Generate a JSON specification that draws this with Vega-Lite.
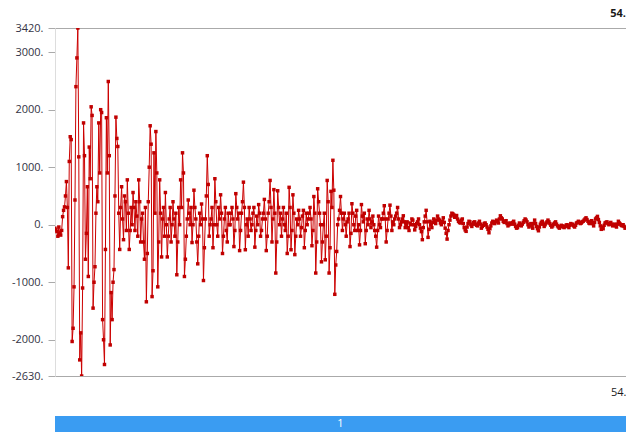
{
  "$schema": "https://vega.github.io/schema/vega-lite/v6.json",
  "padding": {"top": 8, "left": 11, "right": 0, "bottom": 0},
  "spacing": 19,
  "config": {"view": {"stroke": null}, "font": "Open Sans"},
  "datasets": {
    "sig": [
{"t":0,"v":-60},{"t":1,"v":-90},{"t":2,"v":-120},{"t":3,"v":-200},{"t":4,"v":-40},{"t":5,"v":-150},{"t":6,"v":-180},{"t":7,"v":-100},{"t":8,"v":140},{"t":9,"v":250},
{"t":10,"v":310},{"t":11,"v":500},{"t":12,"v":750},{"t":13,"v":300},{"t":14,"v":-750},{"t":15,"v":1100},{"t":16,"v":1530},{"t":17,"v":1480},{"t":18,"v":-2030},{"t":19,"v":-1800},
{"t":20,"v":-1080},{"t":21,"v":430},{"t":22,"v":2400},{"t":23,"v":2900},{"t":24,"v":3420},{"t":25,"v":1180},{"t":26,"v":-2350},{"t":27,"v":-1880},{"t":28,"v":-2630},{"t":29,"v":-1100},
{"t":30,"v":1770},{"t":31,"v":1200},{"t":32,"v":-600},{"t":33,"v":-150},{"t":34,"v":660},{"t":35,"v":-900},{"t":36,"v":1350},{"t":37,"v":800},{"t":38,"v":2050},{"t":39,"v":1900},
{"t":40,"v":-1450},{"t":41,"v":-1000},{"t":42,"v":-730},{"t":43,"v":200},{"t":44,"v":660},{"t":45,"v":400},{"t":46,"v":1770},{"t":47,"v":900},{"t":48,"v":2000},{"t":49,"v":1950},
{"t":50,"v":-1650},{"t":51,"v":-2000},{"t":52,"v":-2430},{"t":53,"v":-430},{"t":54,"v":1860},{"t":55,"v":900},{"t":56,"v":2490},{"t":57,"v":1200},{"t":58,"v":-2090},{"t":59,"v":-1180},
{"t":60,"v":-1650},{"t":61,"v":-1000},{"t":62,"v":-780},{"t":63,"v":500},{"t":64,"v":1870},{"t":65,"v":1500},{"t":66,"v":1360},{"t":67,"v":200},{"t":68,"v":-430},{"t":69,"v":300},
{"t":70,"v":660},{"t":71,"v":100},{"t":72,"v":-260},{"t":73,"v":500},{"t":74,"v":400},{"t":75,"v":-100},{"t":76,"v":780},{"t":77,"v":200},{"t":78,"v":-430},{"t":79,"v":-100},
{"t":80,"v":300},{"t":81,"v":0},{"t":82,"v":560},{"t":83,"v":300},{"t":84,"v":-100},{"t":85,"v":400},{"t":86,"v":150},{"t":87,"v":-200},{"t":88,"v":780},{"t":89,"v":400},
{"t":90,"v":-300},{"t":91,"v":100},{"t":92,"v":200},{"t":93,"v":-300},{"t":94,"v":-600},{"t":95,"v":300},{"t":96,"v":-1340},{"t":97,"v":-500},{"t":98,"v":400},{"t":99,"v":1000},
{"t":100,"v":1720},{"t":101,"v":1400},{"t":102,"v":-1250},{"t":103,"v":-800},{"t":104,"v":1250},{"t":105,"v":200},{"t":106,"v":1620},{"t":107,"v":900},{"t":108,"v":-1080},{"t":109,"v":-300},
{"t":110,"v":780},{"t":111,"v":200},{"t":112,"v":-560},{"t":113,"v":100},{"t":114,"v":300},{"t":115,"v":-200},{"t":116,"v":560},{"t":117,"v":0},{"t":118,"v":-560},{"t":119,"v":-200},
{"t":120,"v":100},{"t":121,"v":300},{"t":122,"v":-300},{"t":123,"v":0},{"t":124,"v":400},{"t":125,"v":100},{"t":126,"v":-200},{"t":127,"v":200},{"t":128,"v":-870},{"t":129,"v":-300},
{"t":130,"v":300},{"t":131,"v":0},{"t":132,"v":780},{"t":133,"v":300},{"t":134,"v":1250},{"t":135,"v":900},{"t":136,"v":-900},{"t":137,"v":-600},{"t":138,"v":-200},{"t":139,"v":100},
{"t":140,"v":430},{"t":141,"v":200},{"t":142,"v":0},{"t":143,"v":300},{"t":144,"v":-310},{"t":145,"v":0},{"t":146,"v":600},{"t":147,"v":300},{"t":148,"v":100},{"t":149,"v":-300},
{"t":150,"v":-680},{"t":151,"v":-200},{"t":152,"v":200},{"t":153,"v":0},{"t":154,"v":360},{"t":155,"v":100},{"t":156,"v":-970},{"t":157,"v":-400},{"t":158,"v":100},{"t":159,"v":500},
{"t":160,"v":1200},{"t":161,"v":700},{"t":162,"v":-200},{"t":163,"v":0},{"t":164,"v":100},{"t":165,"v":300},{"t":166,"v":-400},{"t":167,"v":0},{"t":168,"v":800},{"t":169,"v":400},
{"t":170,"v":0},{"t":171,"v":-200},{"t":172,"v":300},{"t":173,"v":100},{"t":174,"v":520},{"t":175,"v":200},{"t":176,"v":-500},{"t":177,"v":-200},{"t":178,"v":100},{"t":179,"v":300},
{"t":180,"v":-100},{"t":181,"v":-300},{"t":182,"v":200},{"t":183,"v":0},{"t":184,"v":0},{"t":185,"v":200},{"t":186,"v":300},{"t":187,"v":100},{"t":188,"v":-380},{"t":189,"v":-100},
{"t":190,"v":540},{"t":191,"v":300},{"t":192,"v":100},{"t":193,"v":200},{"t":194,"v":-450},{"t":195,"v":-100},{"t":196,"v":200},{"t":197,"v":400},{"t":198,"v":740},{"t":199,"v":300},
{"t":200,"v":-435},{"t":201,"v":0},{"t":202,"v":100},{"t":203,"v":-200},{"t":204,"v":300},{"t":205,"v":100},{"t":206,"v":-100},{"t":207,"v":0},{"t":208,"v":200},{"t":209,"v":300},
{"t":210,"v":-390},{"t":211,"v":-100},{"t":212,"v":150},{"t":213,"v":0},{"t":214,"v":350},{"t":215,"v":200},{"t":216,"v":-200},{"t":217,"v":-100},{"t":218,"v":100},{"t":219,"v":200},
{"t":220,"v":440},{"t":221,"v":100},{"t":222,"v":-450},{"t":223,"v":-200},{"t":224,"v":200},{"t":225,"v":400},{"t":226,"v":770},{"t":227,"v":300},{"t":228,"v":-300},{"t":229,"v":100},
{"t":230,"v":610},{"t":231,"v":200},{"t":232,"v":-840},{"t":233,"v":-300},{"t":234,"v":590},{"t":235,"v":300},{"t":236,"v":0},{"t":237,"v":200},{"t":238,"v":-200},{"t":239,"v":100},
{"t":240,"v":300},{"t":241,"v":0},{"t":242,"v":-100},{"t":243,"v":200},{"t":244,"v":-500},{"t":245,"v":-200},{"t":246,"v":650},{"t":247,"v":300},{"t":248,"v":-435},{"t":249,"v":-100},
{"t":250,"v":520},{"t":251,"v":200},{"t":252,"v":-520},{"t":253,"v":-200},{"t":254,"v":100},{"t":255,"v":0},{"t":256,"v":250},{"t":257,"v":100},{"t":258,"v":-200},{"t":259,"v":-50},
{"t":260,"v":150},{"t":261,"v":250},{"t":262,"v":-400},{"t":263,"v":-100},{"t":264,"v":200},{"t":265,"v":0},{"t":266,"v":100},{"t":267,"v":200},{"t":268,"v":300},{"t":269,"v":100},
{"t":270,"v":-365},{"t":271,"v":-100},{"t":272,"v":490},{"t":273,"v":200},{"t":274,"v":-840},{"t":275,"v":-300},{"t":276,"v":625},{"t":277,"v":400},{"t":278,"v":200},{"t":279,"v":0},
{"t":280,"v":-645},{"t":281,"v":-300},{"t":282,"v":0},{"t":283,"v":200},{"t":284,"v":-610},{"t":285,"v":-200},{"t":286,"v":770},{"t":287,"v":400},{"t":288,"v":-840},{"t":289,"v":-400},
{"t":290,"v":580},{"t":291,"v":300},{"t":292,"v":1120},{"t":293,"v":600},{"t":294,"v":-1210},{"t":295,"v":-700},{"t":296,"v":-465},{"t":297,"v":0},{"t":298,"v":100},{"t":299,"v":250},
{"t":300,"v":490},{"t":301,"v":200},{"t":302,"v":-100},{"t":303,"v":100},{"t":304,"v":200},{"t":305,"v":0},{"t":306,"v":-200},{"t":307,"v":50},{"t":308,"v":100},{"t":309,"v":200},
{"t":310,"v":-380},{"t":311,"v":-150},{"t":312,"v":365},{"t":313,"v":200},{"t":314,"v":0},{"t":315,"v":-100},{"t":316,"v":150},{"t":317,"v":250},{"t":318,"v":-100},{"t":319,"v":0},
{"t":320,"v":-350},{"t":321,"v":-100},{"t":322,"v":350},{"t":323,"v":150},{"t":324,"v":50},{"t":325,"v":200},{"t":326,"v":-330},{"t":327,"v":-100},{"t":328,"v":100},{"t":329,"v":0},
{"t":330,"v":250},{"t":331,"v":100},{"t":332,"v":-50},{"t":333,"v":50},{"t":334,"v":150},{"t":335,"v":0},{"t":336,"v":-100},{"t":337,"v":-200},{"t":338,"v":-390},{"t":339,"v":-100},
{"t":340,"v":150},{"t":341,"v":0},{"t":342,"v":-50},{"t":343,"v":100},{"t":344,"v":100},{"t":345,"v":200},{"t":346,"v":330},{"t":347,"v":100},{"t":348,"v":-300},{"t":349,"v":-100},
{"t":350,"v":100},{"t":351,"v":200},{"t":352,"v":340},{"t":353,"v":150},{"t":354,"v":-100},{"t":355,"v":50},{"t":356,"v":0},{"t":357,"v":100},{"t":358,"v":150},{"t":359,"v":200},
{"t":360,"v":300},{"t":361,"v":100},{"t":362,"v":-50},{"t":363,"v":0},{"t":364,"v":50},{"t":365,"v":100},{"t":366,"v":155},{"t":367,"v":50},{"t":368,"v":-50},{"t":369,"v":0},
{"t":370,"v":50},{"t":371,"v":-50},{"t":372,"v":-100},{"t":373,"v":30},{"t":374,"v":0},{"t":375,"v":100},{"t":376,"v":80},{"t":377,"v":0},{"t":378,"v":-90},{"t":379,"v":-30},
{"t":380,"v":20},{"t":381,"v":50},{"t":382,"v":100},{"t":383,"v":0},{"t":384,"v":-60},{"t":385,"v":-120},{"t":386,"v":-260},{"t":387,"v":-50},{"t":388,"v":50},{"t":389,"v":150},
{"t":390,"v":250},{"t":391,"v":50},{"t":392,"v":-220},{"t":393,"v":-80},{"t":394,"v":60},{"t":395,"v":0},{"t":396,"v":-50},{"t":397,"v":40},{"t":398,"v":100},{"t":399,"v":60},
{"t":400,"v":20},{"t":401,"v":80},{"t":402,"v":150},{"t":403,"v":100},{"t":404,"v":80},{"t":405,"v":30},{"t":406,"v":0},{"t":407,"v":60},{"t":408,"v":120},{"t":409,"v":40},
{"t":410,"v":-60},{"t":411,"v":-150},{"t":412,"v":-250},{"t":413,"v":-100},{"t":414,"v":0},{"t":415,"v":80},{"t":416,"v":150},{"t":417,"v":200},{"t":418,"v":190},{"t":419,"v":170},
{"t":420,"v":130},{"t":421,"v":150},{"t":422,"v":160},{"t":423,"v":100},{"t":424,"v":60},{"t":425,"v":40},{"t":426,"v":30},{"t":427,"v":80},{"t":428,"v":100},{"t":429,"v":20},
{"t":430,"v":-50},{"t":431,"v":-90},{"t":432,"v":-115},{"t":433,"v":-40},{"t":434,"v":20},{"t":435,"v":60},{"t":436,"v":50},{"t":437,"v":0},{"t":438,"v":-30},{"t":439,"v":10},
{"t":440,"v":40},{"t":441,"v":50},{"t":442,"v":10},{"t":443,"v":-10},{"t":444,"v":-20},{"t":445,"v":30},{"t":446,"v":60},{"t":447,"v":10},{"t":448,"v":-60},{"t":449,"v":-30},
{"t":450,"v":-10},{"t":451,"v":20},{"t":452,"v":30},{"t":453,"v":0},{"t":454,"v":-40},{"t":455,"v":-80},{"t":456,"v":-140},{"t":457,"v":-70},{"t":458,"v":-20},{"t":459,"v":30},
{"t":460,"v":60},{"t":461,"v":40},{"t":462,"v":20},{"t":463,"v":50},{"t":464,"v":80},{"t":465,"v":60},{"t":466,"v":30},{"t":467,"v":100},{"t":468,"v":155},{"t":469,"v":120},
{"t":470,"v":100},{"t":471,"v":60},{"t":472,"v":40},{"t":473,"v":60},{"t":474,"v":70},{"t":475,"v":20},{"t":476,"v":-20},{"t":477,"v":0},{"t":478,"v":30},{"t":479,"v":20},
{"t":480,"v":10},{"t":481,"v":40},{"t":482,"v":60},{"t":483,"v":10},{"t":484,"v":-30},{"t":485,"v":-60},{"t":486,"v":-50},{"t":487,"v":-10},{"t":488,"v":30},{"t":489,"v":0},
{"t":490,"v":-20},{"t":491,"v":10},{"t":492,"v":40},{"t":493,"v":70},{"t":494,"v":100},{"t":495,"v":80},{"t":496,"v":50},{"t":497,"v":0},{"t":498,"v":-40},{"t":499,"v":-10},
{"t":500,"v":20},{"t":501,"v":-20},{"t":502,"v":-60},{"t":503,"v":20},{"t":504,"v":80},{"t":505,"v":20},{"t":506,"v":-30},{"t":507,"v":-70},{"t":508,"v":-105},{"t":509,"v":-40},
{"t":510,"v":10},{"t":511,"v":40},{"t":512,"v":60},{"t":513,"v":10},{"t":514,"v":-30},{"t":515,"v":0},{"t":516,"v":30},{"t":517,"v":50},{"t":518,"v":80},{"t":519,"v":50},
{"t":520,"v":20},{"t":521,"v":-10},{"t":522,"v":-40},{"t":523,"v":-20},{"t":524,"v":10},{"t":525,"v":30},{"t":526,"v":50},{"t":527,"v":10},{"t":528,"v":-20},{"t":529,"v":-40},
{"t":530,"v":-60},{"t":531,"v":-30},{"t":532,"v":-10},{"t":533,"v":-20},{"t":534,"v":-40},{"t":535,"v":-50},{"t":536,"v":-30},{"t":537,"v":-10},{"t":538,"v":0},{"t":539,"v":-30},
{"t":540,"v":-50},{"t":541,"v":-10},{"t":542,"v":20},{"t":543,"v":0},{"t":544,"v":10},{"t":545,"v":-20},{"t":546,"v":-40},{"t":547,"v":-10},{"t":548,"v":30},{"t":549,"v":40},
{"t":550,"v":60},{"t":551,"v":40},{"t":552,"v":20},{"t":553,"v":30},{"t":554,"v":50},{"t":555,"v":60},{"t":556,"v":80},{"t":557,"v":100},{"t":558,"v":120},{"t":559,"v":90},
{"t":560,"v":60},{"t":561,"v":30},{"t":562,"v":20},{"t":563,"v":50},{"t":564,"v":70},{"t":565,"v":20},{"t":566,"v":-20},{"t":567,"v":40},{"t":568,"v":100},{"t":569,"v":120},
{"t":570,"v":145},{"t":571,"v":90},{"t":572,"v":40},{"t":573,"v":-20},{"t":574,"v":-80},{"t":575,"v":-40},{"t":576,"v":-70},{"t":577,"v":-10},{"t":578,"v":30},{"t":579,"v":40},
{"t":580,"v":50},{"t":581,"v":20},{"t":582,"v":0},{"t":583,"v":20},{"t":584,"v":40},{"t":585,"v":10},{"t":586,"v":-20},{"t":587,"v":-10},{"t":588,"v":10},{"t":589,"v":-20},
{"t":590,"v":-40},{"t":591,"v":10},{"t":592,"v":60},{"t":593,"v":30},{"t":594,"v":10},{"t":595,"v":-10},{"t":596,"v":-20},{"t":597,"v":0},{"t":598,"v":-30},{"t":599,"v":-60},
{"t":600,"v":-50}
    ],
    "bar": [{"label": "1"}]
  },
  "vconcat": [
    {
      "width": 571,
      "height": 348,
      "title": {"text": "54.", "anchor": "end", "frame": "group", "offset": 3, "fontSize": 11, "fontWeight": "bold", "color": "#1a1a1a", "font": "Open Sans"},
      "data": {"name": "sig"},
      "mark": {"type": "line", "color": "#cc0000", "strokeWidth": 1, "clip": true,
               "point": {"shape": "square", "size": 12, "filled": true, "fill": "#c00000", "strokeWidth": 0}},
      "encoding": {
        "x": {"field": "t", "type": "quantitative",
              "scale": {"domain": [0, 600], "nice": false, "zero": false},
              "axis": {"values": [600], "labelExpr": "'54.'", "labelAlign": "right", "labelFlush": false,
                       "ticks": false, "domain": false, "grid": false, "labelPadding": 10,
                       "labelFontSize": 11, "labelColor": "#1a1a1a", "title": null}},
        "y": {"field": "v", "type": "quantitative",
              "scale": {"domain": [-2630, 3420], "nice": false, "zero": false},
              "axis": {"values": [3420, 3000, 2000, 1000, 0, -1000, -2000, -2630],
                       "labelExpr": "datum.value + '.'", "title": null, "labelOverlap": false,
                       "tickSize": 7, "tickColor": "#aaaaaa", "domainColor": "#dddddd",
                       "labelPadding": 5, "labelFontSize": 11, "labelColor": "#333344",
                       "grid": true, "gridColor": "#aaaaaa",
                       "gridOpacity": {"condition": {"test": "datum.value === 3420 || datum.value === -2630", "value": 1}, "value": 0}}}
      }
    },
    {
      "width": 571,
      "height": 16,
      "data": {"name": "bar"},
      "layer": [
        {"mark": {"type": "rect", "color": "#3a9cf2"}, "encoding": {}},
        {"mark": {"type": "text", "color": "white", "fontSize": 11}, "encoding": {"text": {"field": "label"}}}
      ]
    }
  ]
}
